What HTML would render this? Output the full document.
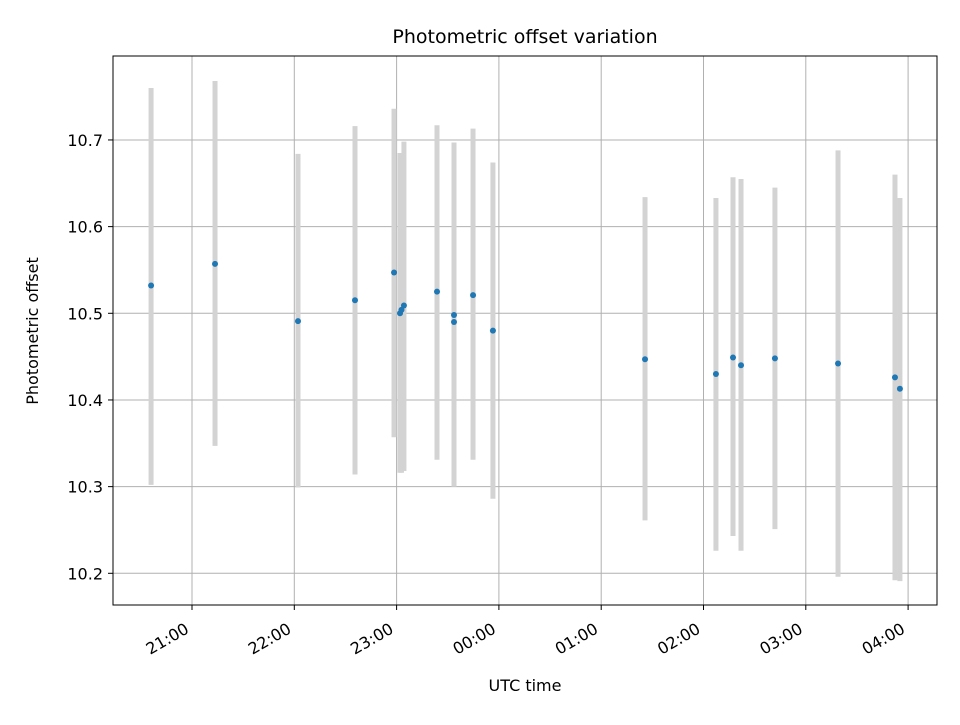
<!DOCTYPE html>
<html><head><meta charset="utf-8"><style>
body{margin:0;background:#fff;font-family:"Liberation Sans","DejaVu Sans",sans-serif}
</style></head><body>
<svg width="960" height="720" xmlns="http://www.w3.org/2000/svg" font-family="DejaVu Sans, Liberation Sans, sans-serif">
<rect width="960" height="720" fill="#fff"/>
<text x="525" y="43" text-anchor="middle" font-size="19">Photometric offset variation</text>
<g id="grid"></g><g id="bars"></g><g id="pts"></g><g id="axes"></g>
<rect x="113" y="56" width="824" height="549" fill="none" stroke="#000" stroke-width="1"/>
<text x="525" y="691" text-anchor="middle" font-size="16">UTC time</text>
<text transform="translate(38,331) rotate(-90)" text-anchor="middle" font-size="16">Photometric offset</text>
</svg>
<script>
const times=["20:36:00","21:13:30","22:02:10","22:35:36","22:58:30","23:02:00","23:02:52","23:04:18","23:23:42","23:33:40","23:33:40","23:44:50","23:56:30","01:25:42","02:07:18","02:17:18","02:22:00","02:41:54","03:18:54","03:52:18","03:55:12"];
const offsets=[10.532,10.557,10.491,10.515,10.547,10.500,10.504,10.509,10.525,10.498,10.490,10.521,10.480,10.447,10.430,10.449,10.440,10.448,10.442,10.426,10.413];
const errLow=[10.302,10.347,10.299,10.314,10.357,10.316,10.316,10.318,10.331,10.300,10.300,10.331,10.286,10.261,10.226,10.243,10.226,10.251,10.196,10.192,10.191];
const errHigh=[10.760,10.768,10.684,10.716,10.736,10.685,10.685,10.698,10.717,10.697,10.697,10.713,10.674,10.634,10.633,10.657,10.655,10.645,10.688,10.660,10.633];
const yTicks=[10.2,10.3,10.4,10.5,10.6,10.7];
const xTickLabels=["21:00","22:00","23:00","00:00","01:00","02:00","03:00","04:00"];
const NS="http://www.w3.org/2000/svg";
function toH(t){const p=t.split(":").map(Number);let h=p[0]+p[1]/60+(p[2]||0)/3600;if(h<12)h+=24;return h;}
const xS=h=>192+(h-21)*102.3;
const yS=v=>573.3-(v-10.2)*866.7;
function mk(tag,attrs,parent){const e=document.createElementNS(NS,tag);for(const k in attrs)e.setAttribute(k,attrs[k]);document.getElementById(parent).appendChild(e);return e;}
yTicks.forEach(v=>{const y=yS(v);
 const g=mk("line",{x1:113,x2:937,y1:y,y2:y,stroke:"#b0b0b0","stroke-width":1},"grid");
 
 mk("line",{x1:108,x2:113,y1:y,y2:y,stroke:"#000"},"axes");
 const t=mk("text",{x:103,y:y+6,"text-anchor":"end","font-size":16},"axes");t.textContent=v.toFixed(1);
 });
xTickLabels.forEach(l=>{let h=parseInt(l);if(h<12)h+=24;const x=xS(h);
 const g=mk("line",{x1:x,x2:x,y1:56,y2:605,stroke:"#b0b0b0","stroke-width":1},"grid");
 
 mk("line",{x1:x,x2:x,y1:605,y2:610,stroke:"#000"},"axes");
 const ax=x-2, ay=632;
 const t=mk("text",{x:ax,y:ay,"text-anchor":"end","font-size":16,transform:`rotate(-30 ${ax} ${ay})`},"axes");t.textContent=l;
 });
times.forEach((t,i)=>{const x=xS(toH(t));
 const b=mk("line",{x1:x,x2:x,y1:yS(errLow[i]),y2:yS(errHigh[i]),stroke:"#d3d3d3","stroke-width":5},"bars");
 
 const c=mk("circle",{cx:x,cy:yS(offsets[i]),r:3,fill:"#1f77b4"},"pts");
 });
</script>
</body></html>
